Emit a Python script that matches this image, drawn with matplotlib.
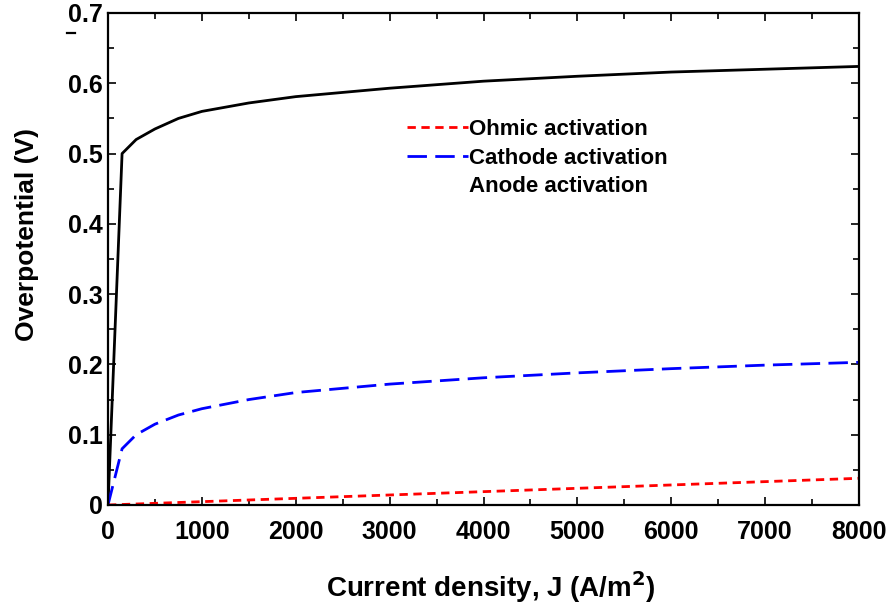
import matplotlib
matplotlib.use("Agg")
import matplotlib.pyplot as plt
from matplotlib.lines import Line2D
from matplotlib.ticker import MultipleLocator

plt.rcParams['font.family'] = ['Liberation Sans', 'DejaVu Sans']
plt.rcParams['font.weight'] = 'bold'

# values
j_total = [0, 150, 300, 500, 750, 1000, 1500, 2000, 3000, 4000, 5000, 6000, 7000, 8000]
eta_total = [0, 0.500, 0.520, 0.535, 0.550, 0.560, 0.572, 0.581, 0.593, 0.603, 0.610, 0.616, 0.620, 0.624]

j_cath = [0, 150, 300, 500, 750, 1000, 1500, 2000, 3000, 4000, 5000, 6000, 7000, 8000]
eta_cath = [0, 0.080, 0.100, 0.115, 0.128, 0.137, 0.150, 0.160, 0.172, 0.181, 0.188, 0.194, 0.199, 0.203]

j_ohm = [0, 8000]
eta_ohm = [0, 0.038]

labels = ['Ohmic activation', 'Cathode activation', 'Anode activation']

fig = plt.figure(figsize=(8.88, 6.09), dpi=100)
ax = fig.add_axes([108 / 888, 1 - 505 / 609, 751 / 888, 492 / 609])

ax.plot(j_total, eta_total, color='black', lw=2)
ax.plot(j_cath, eta_cath, color='blue', lw=2, dashes=(7, 3))
ax.plot(j_ohm, eta_ohm, color='red', lw=2, dashes=(3, 2))

ax.set_xlim(0, 8000)
ax.set_ylim(0, 0.7)
ax.xaxis.set_major_locator(MultipleLocator(1000))
ax.xaxis.set_minor_locator(MultipleLocator(500))
ax.yaxis.set_minor_locator(MultipleLocator(0.05))
ax.set_yticks([0, 0.1, 0.2, 0.3, 0.4, 0.5, 0.6, 0.7])
ax.set_yticklabels(['0', '0.1', '0.2', '0.3', '0.4', '0.5', '0.6', '0.7'])
ax.tick_params(which='both', direction='in', top=True, right=True, width=1.2)
ax.tick_params(which='major', length=6, labelsize=18)
ax.tick_params(axis='x', which='major', pad=11)
ax.tick_params(axis='y', which='major', pad=4)
ax.tick_params(which='minor', length=4)
for s in ax.spines.values():
    s.set_linewidth(1.6)

ax.set_xlabel('Current density, J (A/m$^\\mathbf{2}$)', fontsize=20, fontweight='bold')
ax.xaxis.set_label_coords(0.51, -0.13)
ax.set_ylabel('Overpotential (V)', fontsize=19, fontweight='bold')
ax.yaxis.set_label_coords(-0.092, 0.55)

handles = [
    Line2D([], [], color='red', lw=2, dashes=(3, 2)),
    Line2D([], [], color='blue', lw=2, dashes=(7, 3)),
    Line2D([], [], color='none', lw=2),
]
ax.legend(handles, labels, loc='upper left', bbox_to_anchor=(0.398, 0.784),
          frameon=False, borderpad=0, borderaxespad=0,
          prop={'size': 16, 'weight': 'bold'}, handlelength=2.75,
          handletextpad=0.05, labelspacing=0.33)

# stray dash left of the top tick label
fig.add_artist(Line2D([67 / 888, 75 / 888], [1 - 33 / 609, 1 - 33 / 609],
                      color='black', lw=1.6))

fig.savefig('out.png', dpi=100)
